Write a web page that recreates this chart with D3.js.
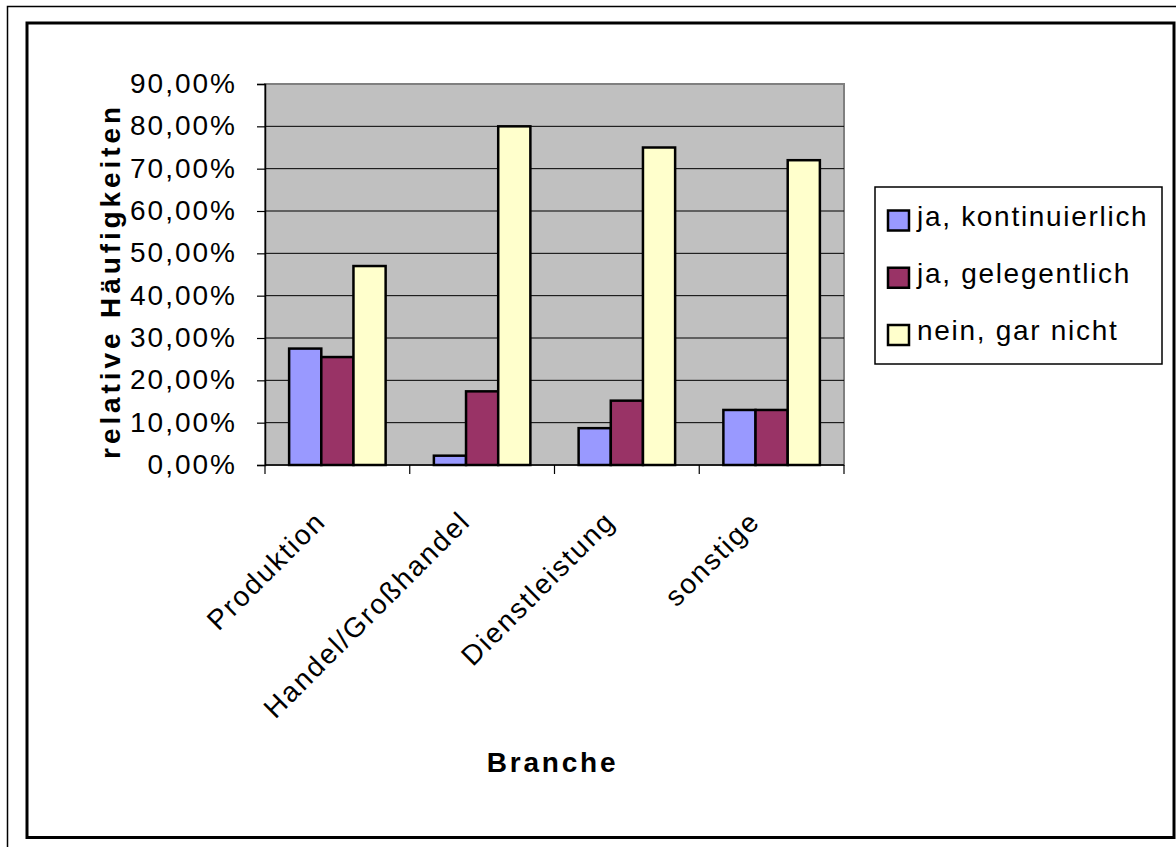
<!DOCTYPE html>
<html><head><meta charset="utf-8">
<script src="https://cdn.jsdelivr.net/npm/d3@7"></script>
<style>
html,body{margin:0;padding:0;background:#fff;}
svg{display:block;font-family:Arial,"Liberation Sans",sans-serif;}
</style></head>
<body>
<svg id="c" width="1176" height="847"></svg>
<script>
const categories = ["Produktion","Handel/Großhandel","Dienstleistung","sonstige"];
const seriesNames = ["ja, kontinuierlich","ja, gelegentlich","nein, gar nicht"];
const kontinuierlich = [0.275, 0.022, 0.087, 0.13];
const gelegentlich   = [0.255, 0.174, 0.152, 0.13];
const garNicht       = [0.47, 0.80, 0.75, 0.72];
const colors = ["#9999FF","#993366","#FFFFCC"];
const yTicks = [0,0.1,0.2,0.3,0.4,0.5,0.6,0.7,0.8,0.9];
const yTitle = "relative Häufigkeiten";
const xTitle = "Branche";

const seriesValues = [kontinuierlich, gelegentlich, garNicht];
const svg = d3.select("#c");

// outer frames
svg.append("rect").attr("x",7.5).attr("y",6.5).attr("width",1180).attr("height",860)
  .attr("fill","none").attr("stroke","#000").attr("stroke-width",1.5);
svg.append("rect").attr("x",27).attr("y",23).attr("width",1147).attr("height",814.5)
  .attr("fill","#fff").attr("stroke","#000").attr("stroke-width",3);

const L=265, R=844, T=84, B=465;
const x0 = d3.scaleBand().domain(categories).range([L,R]).padding(0);
const W = x0.bandwidth();
const x1 = d3.scaleBand().domain(d3.range(seriesNames.length)).range([W*0.75/4.5, W - W*0.75/4.5]).padding(0);
const y = d3.scaleLinear().domain([0,0.9]).range([B,T]);

// plot area
svg.append("rect").attr("x",L).attr("y",T).attr("width",R-L).attr("height",B-T)
  .attr("fill","#C0C0C0").attr("stroke","#808080").attr("stroke-width",2);

// gridlines
svg.append("g").selectAll("line").data(yTicks.filter(v=>v>0 && v<0.9)).join("line")
  .attr("x1",L).attr("x2",R).attr("y1",d=>y(d)).attr("y2",d=>y(d))
  .attr("stroke","#000").attr("stroke-width",1);

// y axis
const fmt = v => (v*100).toFixed(2).replace(".",",")+"%";
const yAxis = d3.axisLeft(y).tickValues(yTicks).tickFormat(fmt).tickSize(8).tickPadding(20);
const gy = svg.append("g").attr("transform",`translate(${L},0)`).call(yAxis);
gy.select(".domain").attr("stroke","#000").attr("stroke-width",1.5);
gy.selectAll(".tick line").attr("stroke","#000").attr("stroke-width",1.2);
gy.selectAll(".tick text").attr("font-size",28).attr("fill","#000")
  .attr("font-family",'Arial,"Liberation Sans",sans-serif')
  .attr("letter-spacing","2px").attr("dy","0.3em");

// bars
const groups = svg.append("g").selectAll("g").data(categories).join("g")
  .attr("transform",d=>`translate(${x0(d)},0)`);
groups.selectAll("rect").data((c,ci)=>seriesValues.map((s,si)=>({si, v:s[ci]}))).join("rect")
  .attr("x",d=>x1(d.si)).attr("width",x1.bandwidth())
  .attr("y",d=>y(d.v)).attr("height",d=>B-y(d.v))
  .attr("fill",d=>colors[d.si]).attr("stroke","#000").attr("stroke-width",2.5);

// x axis
const gx = svg.append("g").attr("transform",`translate(0,${B})`);
gx.append("line").attr("x1",L).attr("x2",R).attr("stroke","#000").attr("stroke-width",1.5);
const tickXs = categories.map(c=>x0(c)).concat([R]);
gx.selectAll("line.t").data(tickXs).join("line").attr("class","t")
  .attr("x1",d=>d).attr("x2",d=>d).attr("y1",0).attr("y2",9)
  .attr("stroke","#000").attr("stroke-width",1.2);
gx.selectAll("text").data(categories).join("text")
  .attr("transform",d=>`translate(${x0(d)+W/2-10},58) rotate(-45)`)
  .attr("text-anchor","end").attr("font-size",28).attr("letter-spacing","2px")
  .attr("fill","#000").text(d=>d);

// axis titles
svg.append("text").attr("x",552.5).attr("y",772).attr("text-anchor","middle")
  .attr("font-size",28).attr("font-weight","bold").attr("letter-spacing","2.8px").text(xTitle);
svg.append("text").attr("transform","translate(120,281) rotate(-90)").attr("text-anchor","middle")
  .attr("font-size",28).attr("font-weight","bold").attr("letter-spacing","3.9px").text(yTitle);

// legend
svg.append("rect").attr("x",875).attr("y",187).attr("width",287).attr("height",177)
  .attr("fill","#fff").attr("stroke","#000").attr("stroke-width",1.5);
const ly = d3.scalePoint().domain(seriesNames).range([220.5,335]);
const lg = svg.append("g").selectAll("g").data(seriesNames).join("g")
  .attr("transform",d=>`translate(0,${ly(d)})`);
lg.append("rect").attr("x",888).attr("y",-10).attr("width",21).attr("height",20)
  .attr("fill",(d,i)=>colors[i]).attr("stroke","#000").attr("stroke-width",2.5);
lg.append("text").attr("x",917).attr("y",5).attr("font-size",28).attr("letter-spacing","1.7px")
  .attr("fill","#000").text(d=>d);
</script>
</body></html>
